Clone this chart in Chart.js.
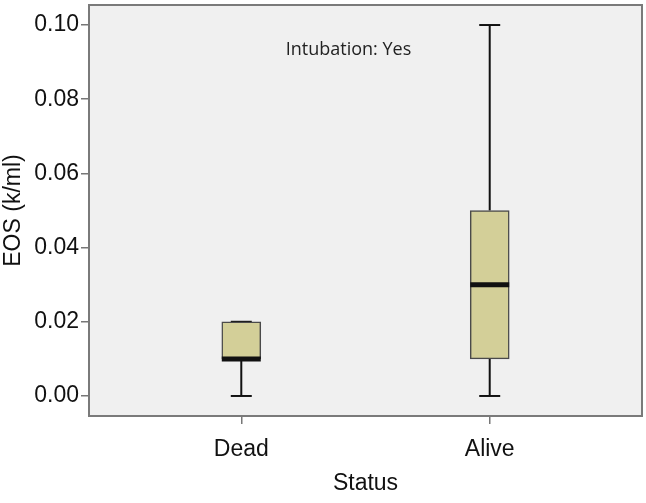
<!DOCTYPE html>
<html><head><meta charset="utf-8">
<script src="https://cdn.jsdelivr.net/npm/chart.js@4/dist/chart.umd.min.js"></script>
<style>html,body{margin:0;padding:0;background:#fff}#wrap{width:646px;height:503px}</style>
</head><body><div id="wrap"><canvas id="c" width="646" height="503"></canvas></div>
<script>
const categories = ['Dead', 'Alive'];
const positions = [1, 2];
const whiskerLow = [0, 0];
const quartile1 = [0.01, 0.01];
const medians = [0.01, 0.03];
const quartile3 = [0.02, 0.05];
const whiskerHigh = [0.02, 0.10];
const yTicks = [0, 0.02, 0.04, 0.06, 0.08, 0.10];
const annotationText = 'Intubation: Yes';
const yTitle = 'EOS (k/ml)';
const xTitle = 'Status';

const FONT = "'Liberation Sans', Arial, sans-serif";

const boxPlugin = {
  id: 'boxExtras',
  beforeDatasetsDraw(chart) {
    const {ctx, chartArea: a, scales: {x, y}} = chart;
    ctx.save();
    ctx.fillStyle = '#F0F0F0';
    ctx.fillRect(a.left, a.top, a.right - a.left, a.bottom - a.top);
    ctx.fillStyle = '#222';
    ctx.font = "18px 'Open Sans', 'Noto Sans', sans-serif";
    ctx.textAlign = 'center';
    ctx.textBaseline = 'middle';
    ctx.fillText(annotationText, 348.5, 50);
    ctx.strokeStyle = '#111';
    ctx.lineWidth = 2;
    positions.forEach((p, i) => {
      const px = x.getPixelForValue(p);
      const capHalf = 10.5;
      const segs = [[whiskerLow[i], quartile1[i]], [quartile3[i], whiskerHigh[i]]];
      segs.forEach(([v0, v1]) => {
        if (v1 - v0 <= 0) return;
        ctx.beginPath();
        ctx.moveTo(px, y.getPixelForValue(v0));
        ctx.lineTo(px, y.getPixelForValue(v1));
        ctx.stroke();
      });
      [whiskerLow[i], whiskerHigh[i]].forEach((v) => {
        ctx.beginPath();
        const py = y.getPixelForValue(v);
        ctx.moveTo(px - capHalf, py);
        ctx.lineTo(px + capHalf, py);
        ctx.stroke();
      });
    });
    ctx.restore();
  },
  afterDatasetsDraw(chart) {
    const {ctx, chartArea: a, scales: {x, y}} = chart;
    ctx.save();
    ctx.strokeStyle = '#111';
    ctx.lineWidth = 5;
    positions.forEach((p, i) => {
      const px = x.getPixelForValue(p);
      const py = y.getPixelForValue(medians[i]);
      ctx.beginPath();
      ctx.moveTo(px - 19.5, py);
      ctx.lineTo(px + 19.5, py);
      ctx.stroke();
    });
    ctx.strokeStyle = '#7a7a7a';
    ctx.lineWidth = 2;
    ctx.strokeRect(a.left, a.top, a.right - a.left, a.bottom - a.top);
    ctx.restore();
  }
};

new Chart(document.getElementById('c'), {
  type: 'bar',
  data: {
    datasets: [{
      data: positions.map((p, i) => ({x: p, y: [quartile1[i], quartile3[i]]})),
      backgroundColor: '#D3CF98',
      borderColor: '#4a4a4a',
      borderWidth: 1.5,
      borderSkipped: false,
      barThickness: 39
    }]
  },
  options: {
    responsive: false,
    animation: false,
    layout: {padding: {top: 5, right: 4, left: 0, bottom: 6}},
    plugins: {legend: {display: false}, tooltip: {enabled: false}},
    scales: {
      x: {
        type: 'linear',
        offset: false,
        min: 0.387, max: 2.613,
        afterBuildTicks: (s) => { s.ticks = positions.map(v => ({value: v})); },
        afterFit: (s) => { s.height = 81; s.paddingLeft = 0; s.paddingRight = 0; },
        grid: {offset: false, drawOnChartArea: false, drawTicks: true, tickLength: 8, color: '#777', lineWidth: 1.5},
        border: {display: false},
        ticks: {
          padding: 12,
          color: '#111',
          font: {family: FONT, size: 23},
          callback: (v) => categories[positions.indexOf(v)] ?? ''
        },
        title: {display: true, text: xTitle, color: '#111', font: {family: FONT, size: 23}, padding: {top: 0, bottom: 0}}
      },
      y: {
        type: 'linear',
        min: -0.0054, max: 0.1054,
        afterBuildTicks: (s) => { s.ticks = yTicks.map(v => ({value: v})); },
        afterFit: (s) => { s.width = 89; s.paddingTop = 0; s.paddingBottom = 0; },
        grid: {drawOnChartArea: false, drawTicks: true, tickLength: 8, color: '#777', lineWidth: 1.5},
        border: {display: false},
        ticks: {
          padding: 2,
          color: '#111',
          font: {family: FONT, size: 23},
          callback: (v) => v.toFixed(2)
        },
        title: {display: true, text: yTitle, color: '#111', font: {family: FONT, size: 23}, padding: {top: 0, bottom: 0}}
      }
    }
  },
  plugins: [boxPlugin]
});
</script>
</body></html>
